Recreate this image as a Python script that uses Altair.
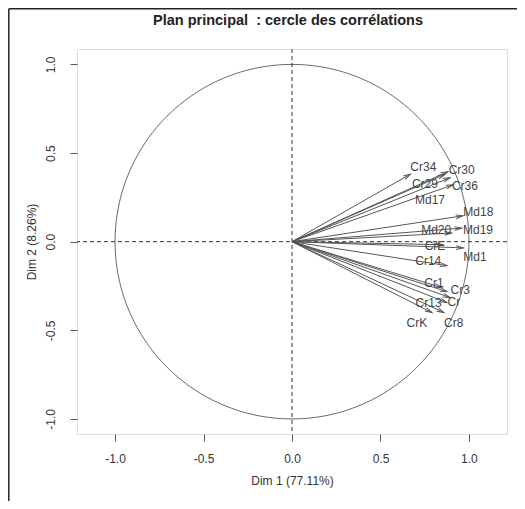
import altair as alt
import pandas as pd

# variable names and coordinates on Dim 1 / Dim 2
names = ["Cr34", "Cr30", "Cr29", "Md17", "Cr36", "Md18", "Md19", "Md20", "CrE", "Md1",
         "Cr14", "Cr1", "Cr3", "Cr", "Cr13", "CrK", "Cr8"]
dim1 = [0.669, 0.881, 0.864, 0.893, 0.910, 0.966, 0.959, 0.902, 0.853, 0.968,
        0.876, 0.847, 0.876, 0.893, 0.876, 0.791, 0.859]
dim2 = [0.381, 0.395, 0.380, 0.361, 0.321, 0.146, 0.077, 0.049, -0.017, -0.035,
        -0.135, -0.259, -0.282, -0.315, -0.344, -0.400, -0.400]
# label positions (data units)
lab_x = [0.742, 0.959, 0.751, 0.780, 0.977, 1.053, 1.051, 0.815, 0.808, 1.034,
         0.770, 0.802, 0.951, 0.915, 0.772, 0.706, 0.914]
lab_y = [0.424, 0.406, 0.327, 0.237, 0.315, 0.165, 0.068, 0.068, -0.026, -0.085,
         -0.111, -0.233, -0.270, -0.342, -0.345, -0.458, -0.458]

tick_vals = [-1.0, -0.5, 0.0, 0.5, 1.0]
title_text = "Plan principal\u00a0 : cercle des corrélations"
x_title = "Dim 1 (77.11%)"
y_title = "Dim 2 (8.26%)"

df = pd.DataFrame({"name": names, "x": dim1, "y": dim2, "lx": lab_x, "ly": lab_y})

FONT = "Liberation Sans"
GREY = "#555555"
TXT = "#333333"

xscale = alt.Scale(domain=[-1.215, 1.215], nice=False, zero=False)
yscale = alt.Scale(domain=[-1.085, 1.087], nice=False, zero=False)

lab_expr = "(datum.value < 0 ? '-' : '') + format(abs(datum.value), '.1f')"

xaxis = alt.Axis(values=tick_vals, labelExpr=lab_expr, title=x_title, grid=False,
                 domain=False, tickSize=7, tickColor=GREY, labelFontSize=12,
                 labelColor=TXT, labelPadding=12, titleFontSize=12,
                 titleFontWeight="normal", titleColor=TXT, titlePadding=11,
                 labelFont=FONT, titleFont=FONT)
yaxis = alt.Axis(values=tick_vals, labelExpr=lab_expr, title=y_title, grid=False,
                 domain=False, tickSize=7, tickColor=GREY, labelFontSize=12,
                 labelColor=TXT, labelPadding=13, labelAngle=270, labelAlign="center",
                 labelBaseline="bottom", titleFontSize=12, titleFontWeight="normal",
                 titleColor=TXT, titlePadding=6, labelFont=FONT, titleFont=FONT)

circle = alt.Chart(alt.sequence(0, 361, 1, as_="deg")).transform_calculate(
    cx="cos(datum.deg * PI / 180)", cy="sin(datum.deg * PI / 180)"
).mark_line(color="#666666", strokeWidth=1).encode(
    x=alt.X("cx:Q", scale=xscale, axis=xaxis),
    y=alt.Y("cy:Q", scale=yscale, axis=yaxis),
    order="deg:Q",
)

zero_df = pd.DataFrame({"v": [0.0]})
hline = alt.Chart(zero_df).mark_rule(color="#333333", strokeDash=[4, 3], strokeWidth=1).encode(
    y=alt.Y("v:Q", scale=yscale, axis=yaxis))
vline = alt.Chart(zero_df).mark_rule(color="#333333", strokeDash=[4, 3], strokeWidth=1).encode(
    x=alt.X("v:Q", scale=xscale, axis=xaxis))

base = alt.Chart(df).transform_calculate(zero="0")

shafts = base.mark_rule(color=GREY, strokeWidth=1).encode(
    x=alt.X("zero:Q", scale=xscale, axis=xaxis),
    y=alt.Y("zero:Q", scale=yscale, axis=yaxis),
    x2="x:Q", y2="y:Q",
)

heads = base.transform_calculate(
    ang="(360 - atan2(datum.y, datum.x) * 180 / PI) % 360"
).mark_point(
    shape="M -1 -0.27 L 0 0 L -1 0.27", filled=False, stroke=GREY, strokeWidth=1,
    size=200, opacity=1,
).encode(
    x=alt.X("x:Q", scale=xscale, axis=xaxis),
    y=alt.Y("y:Q", scale=yscale, axis=yaxis),
    angle=alt.Angle("ang:Q", scale=None),
)

labels = base.mark_text(font=FONT, fontSize=12, color="#444444").encode(
    x=alt.X("lx:Q", scale=xscale, axis=xaxis),
    y=alt.Y("ly:Q", scale=yscale, axis=yaxis),
    text="name:N",
)

frame_left = alt.Chart(zero_df).mark_rule(color="#222222", strokeWidth=1.5).encode(
    x=alt.value(-68.2), y=alt.value(-40.2), y2=alt.value(470))
frame_top = alt.Chart(zero_df).mark_rule(color="#222222", strokeWidth=1.5).encode(
    y=alt.value(-40.2), x=alt.value(-68.2), x2=alt.value(450))

chart = alt.layer(circle, hline, vline, shafts, heads, labels, frame_left, frame_top).properties(
    width=430, height=385,
    title=alt.TitleParams(title_text, fontSize=14.5, fontWeight="bold", font=FONT,
                          color="#222222", baseline="bottom", offset=-34, anchor="middle",
                          dx=-4),
    autosize=alt.AutoSizeParams(type="none"),
    padding={"left": 69, "top": 41, "right": 10, "bottom": 67},
).configure_view(stroke=GREY, strokeWidth=1).configure(font=FONT, background="white")

chart.save("out.html", embed_options={"renderer": "svg", "actions": False})
